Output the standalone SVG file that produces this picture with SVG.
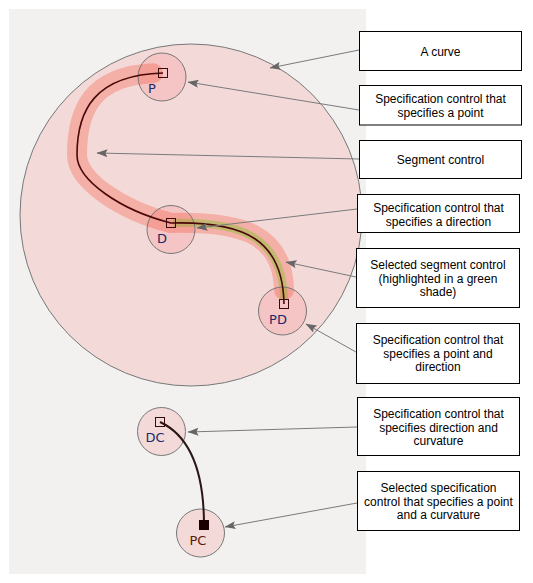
<svg xmlns="http://www.w3.org/2000/svg" width="533" height="583" viewBox="0 0 533 583">
<style>
.bg{fill:#f2f1f0}
.zone{fill:#fa0000;fill-opacity:0.093;stroke:#777;stroke-width:1}
.band{fill:none;stroke:#f57864;stroke-opacity:0.44;stroke-width:20;stroke-linecap:round}
.sel{fill:none;stroke:#a0be50;stroke-opacity:0.6;stroke-width:8}
.crv{fill:none;stroke:#4a0808;stroke-width:1.6}
.crv2{fill:none;stroke:#2a1616;stroke-width:2}
.sq{fill:none;stroke:#3a0a0a;stroke-width:1}
.sqf{fill:#1a0000;stroke:#1a0000;stroke-width:1}
.lbl{font-family:"DejaVu Sans",sans-serif;font-size:13px;fill:#1c2868;text-anchor:middle}
.lbl2{font-family:"DejaVu Sans",sans-serif;font-size:13px;fill:#5a1808;text-anchor:middle}
.box{fill:#fff;stroke:#000;stroke-width:1}
.txt{font-family:"Liberation Sans",Arial,sans-serif;font-size:12px;fill:#000;text-anchor:middle}
.con{fill:none;stroke:#7a7a7a;stroke-width:1;marker-end:url(#ah)}
</style>
<defs>
<marker id="ah" markerWidth="11" markerHeight="8" refX="10.5" refY="4" orient="auto" markerUnits="userSpaceOnUse">
<path d="M0,0 L11,4 L0,8 L2,4 z" fill="#666"/>
</marker>
</defs>
<rect class="bg" x="9" y="9" width="357" height="565"/>
<g id="curve-zone">
<circle class="zone" cx="191" cy="215" r="171"/>
</g>
<g id="segment-bands">
<path class="band" d="M153,73.3 C92,76 77,110 77,155 C77,180 120,210 171,223 C245,221 283,236 284,290"/>
<path class="sel" d="M173,223 C245,221 283,240 284,300"/>
</g>
<g id="node-P">
<circle class="zone" cx="162" cy="77" r="24"/>
</g>
<g id="node-D">
<circle class="zone" cx="171" cy="229.5" r="24"/>
</g>
<g id="node-PD">
<circle class="zone" cx="282.5" cy="311" r="24"/>
</g>
<g id="node-DC">
<circle class="zone" cx="161.5" cy="431.5" r="24"/>
</g>
<g id="node-PC">
<circle class="zone" cx="200.5" cy="533" r="24"/>
</g>
<g id="curves">
<path class="crv" d="M163,73 C95,75 77,110 77,155 C77,180 120,210 171,223 C245,221 283,240 284,304"/>
<path class="crv2" d="M160,422 C190,436 204,470 204,525"/>
</g>
<g id="handles">
<rect class="sq" x="158.5" y="68.5" width="9" height="9"/>
<rect class="sq" x="166.5" y="218.5" width="9" height="9"/>
<rect class="sq" x="279.5" y="299.5" width="9" height="9"/>
<rect class="sq" x="155.5" y="417.5" width="9" height="9"/>
<rect class="sqf" x="199.5" y="520.5" width="9" height="9"/>
</g>
<g id="labels">
<text class="lbl" x="152" y="93">P</text>
<text class="lbl" x="162" y="243">D</text>
<text class="lbl" x="278" y="324">PD</text>
<text class="lbl" x="155" y="442">DC</text>
<text class="lbl2" x="198" y="545">PC</text>
</g>
<g id="connectors">
<line class="con" x1="359" y1="50" x2="270" y2="68"/>
<line class="con" x1="359" y1="110" x2="188" y2="82"/>
<line class="con" x1="359" y1="159" x2="97" y2="153"/>
<line class="con" x1="357" y1="209" x2="197" y2="228"/>
<line class="con" x1="356" y1="277" x2="286" y2="262"/>
<line class="con" x1="356" y1="352" x2="306" y2="324"/>
<line class="con" x1="357" y1="427" x2="188" y2="432"/>
<line class="con" x1="357" y1="503" x2="225" y2="527"/>
</g>
<g id="box-curve">
<rect class="box" x="359.5" y="31.5" width="162" height="39"/>
<text class="txt" x="440.5" y="56">A curve</text>
</g>
<g id="box-point">
<rect class="box" x="359.5" y="85.5" width="162" height="39.5"/>
<text class="txt" x="440.5" y="103">Specification control that</text>
<text class="txt" x="440.5" y="116.5">specifies a point</text>
</g>
<g id="box-segment">
<rect class="box" x="359.5" y="140.5" width="162" height="38"/>
<text class="txt" x="440.5" y="163.5">Segment control</text>
</g>
<g id="box-direction">
<rect class="box" x="357.5" y="194.5" width="162" height="38"/>
<text class="txt" x="438.5" y="212">Specification control that</text>
<text class="txt" x="438.5" y="225.5">specifies a direction</text>
</g>
<g id="box-selected-segment">
<rect class="box" x="356.5" y="248.5" width="163" height="59"/>
<text class="txt" x="438" y="269">Selected segment control</text>
<text class="txt" x="438" y="282.5">(highlighted in a green</text>
<text class="txt" x="438" y="296">shade)</text>
</g>
<g id="box-point-direction">
<rect class="box" x="356.5" y="323.5" width="163" height="60"/>
<text class="txt" x="438" y="344">Specification control that</text>
<text class="txt" x="438" y="357.5">specifies a point and</text>
<text class="txt" x="438" y="371">direction</text>
</g>
<g id="box-direction-curvature">
<rect class="box" x="357.5" y="397.5" width="162" height="58"/>
<text class="txt" x="438.5" y="418">Specification control that</text>
<text class="txt" x="438.5" y="431.5">specifies direction and</text>
<text class="txt" x="438.5" y="445">curvature</text>
</g>
<g id="box-point-curvature">
<rect class="box" x="357.5" y="471.5" width="162" height="59"/>
<text class="txt" x="438.5" y="492">Selected specification</text>
<text class="txt" x="438.5" y="505.5">control that specifies a point</text>
<text class="txt" x="438.5" y="519">and a curvature</text>
</g>
</svg>
